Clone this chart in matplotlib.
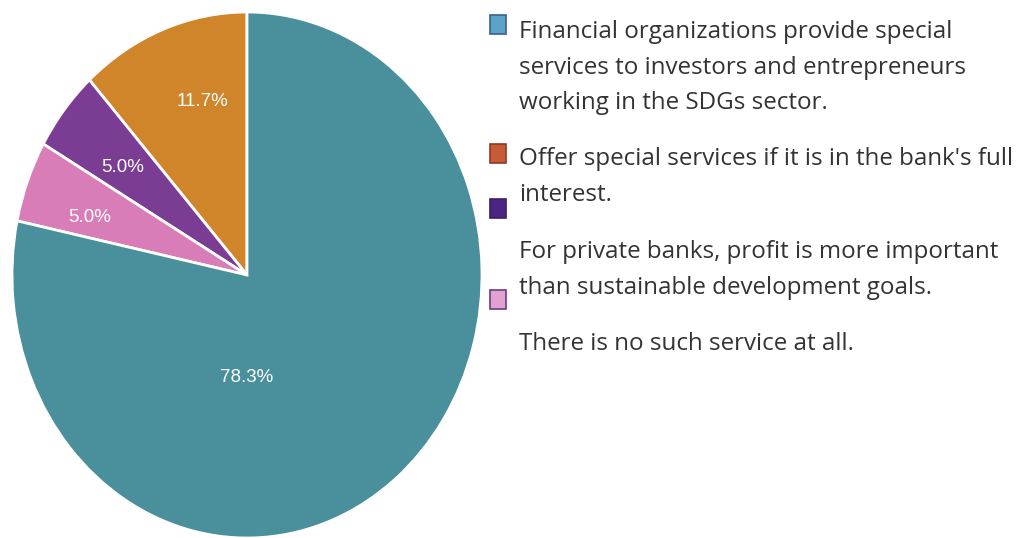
import matplotlib.pyplot as plt
from matplotlib.patches import Rectangle

W, H = 1027, 538

# pie slices, counter-clockwise from 12 o'clock
shares = [11.7, 5.0, 5.0, 78.3]
slice_colors = ["#d1852a", "#7b3c93", "#d97db8", "#4a8f9c"]

legend_labels = [
    "Financial organizations provide special\nservices to investors and entrepreneurs\nworking in the SDGs sector.",
    "Offer special services if it is in the bank's full\ninterest.",
    "For private banks, profit is more important\nthan sustainable development goals.",
    "There is no such service at all.",
]
legend_colors = ["#5aa3c6", "#c75a37", "#4b2583", "#e2a1cf"]
legend_edges = ["#3c5f8e", "#8a3b2a", "#3a1f6a", "#6a3a8a"]

fig = plt.figure(figsize=(W / 100, H / 100), dpi=100)
fig.patch.set_facecolor("white")

# pie is slightly stretched vertically: 470 px wide, 526 px tall
ax = fig.add_axes([12 / W, 1 - 538 / H, 470 / W, 526 / H])
wedges, texts, autotexts = ax.pie(
    shares, colors=slice_colors, startangle=90, counterclock=True,
    autopct="%.1f%%", pctdistance=0.68,
    wedgeprops=dict(edgecolor="white", linewidth=2),
    textprops=dict(color="white", fontsize=13.5, family="Liberation Sans"),
)
ax.set_aspect("auto")
ax.set_xlim(-1, 1)
ax.set_ylim(-1, 1)
ax.axis("off")
autotexts[0].set_position((-0.19, 0.66))
autotexts[1].set_position((-0.53, 0.41))
autotexts[2].set_position((-0.67, 0.22))
autotexts[3].set_position((0.0, -0.39))

# legend squares (pixel boxes) and the text blocks next to them
square_tops = [15, 144, 199, 290]
first_baselines = [38, 165, 258, 350]
line_step = 35.5
for top, fc, ec in zip(square_tops, legend_colors, legend_edges):
    fig.patches.append(Rectangle((490 / W, 1 - (top + 19) / H), 16 / W, 19 / H,
                                 transform=fig.transFigure, facecolor=fc,
                                 edgecolor=ec, linewidth=1.2))
for base, label in zip(first_baselines, legend_labels):
    for i, line in enumerate(label.split("\n")):
        fig.text(519 / W, 1 - (base + i * line_step) / H, line,
                 ha="left", va="baseline", fontsize=17.4,
                 family="Open Sans", color="#333333")

fig.savefig("out.png", dpi=100, facecolor="white")
